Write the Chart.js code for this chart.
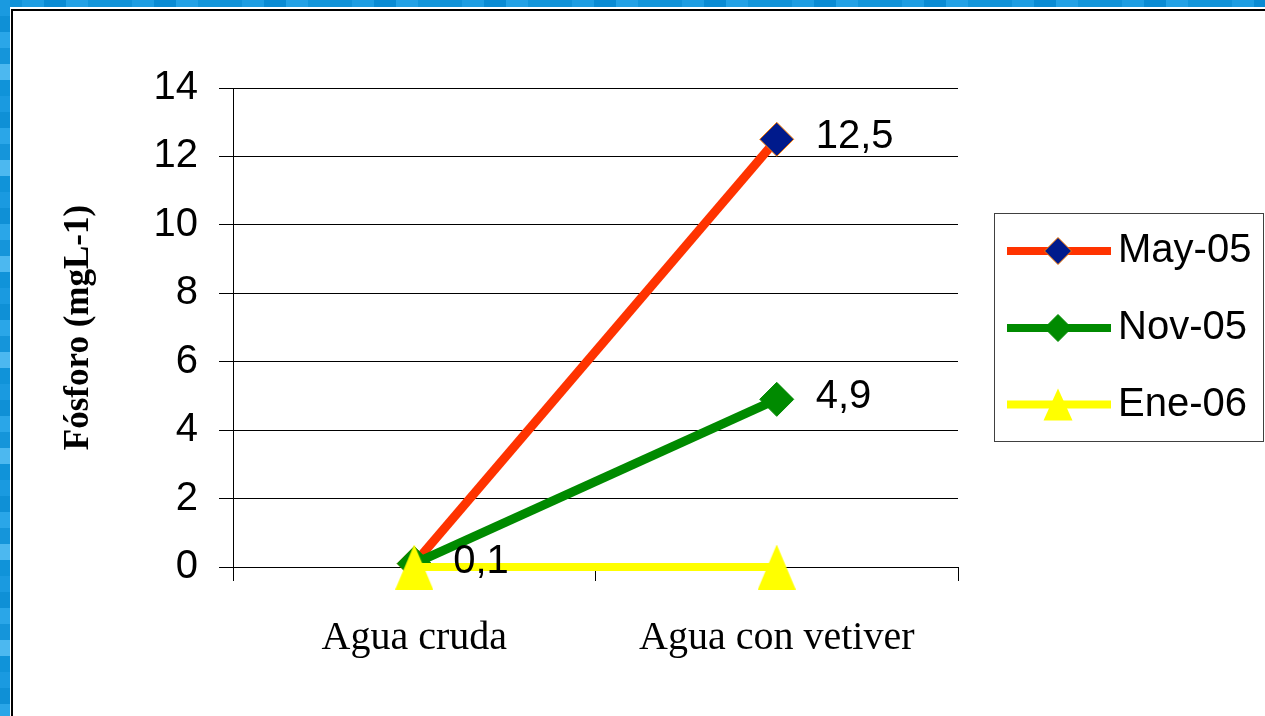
<!DOCTYPE html>
<html>
<head>
<meta charset="utf-8">
<script src="https://cdn.jsdelivr.net/npm/chart.js@4.4.1/dist/chart.umd.min.js"></script>
<style>
  html, body { margin: 0; padding: 0; width: 1265px; height: 716px; overflow: hidden; background: #ffffff; }
  #topStrip { position: absolute; left: 0; top: 0; width: 1265px; height: 7px;
    background: repeating-linear-gradient(90deg, #1092d8 0 22px, #1d9de2 22px 44px, #0a8bd3 44px 66px, #23a1e5 66px 88px, #1396db 88px 110px); }
  #leftStrip { position: absolute; left: 0; top: 0; width: 10px; height: 716px;
    background: repeating-linear-gradient(180deg, #1a9ae0 0 16px, #0f90d6 16px 32px, #2aa6e8 32px 48px, #1595da 48px 64px, #4cb8f0 64px 80px, #1093d9 80px 96px); }
  #whiteFrame { position: absolute; left: 10px; top: 7px; width: 1255px; height: 709px; background: #ffffff; }
  #blackFrame { position: absolute; left: 11px; top: 9px; width: 1254px; height: 707px; border-top: 2px solid #000; border-left: 2px solid #000; box-sizing: border-box; background: #ffffff; }
  #wrap { position: absolute; left: 0; top: 0; width: 1265px; height: 716px; }
</style>
</head>
<body>
<div id="topStrip"></div>
<div id="leftStrip"></div>
<div id="whiteFrame"></div>
<div id="blackFrame"></div>
<div id="wrap"><canvas id="c"></canvas></div>
<script>
// ---- data ----
const categories = ['Agua cruda', 'Agua con vetiver'];
const seriesNames = ['May-05', 'Nov-05', 'Ene-06'];
const may05 = [0.1, 12.5];
const nov05 = [0.1, 4.9];
const ene06 = [0, 0];
const yTicks = [0, 2, 4, 6, 8, 10, 12, 14];
const yAxisTitle = 'Fósforo (mgL-1)';
// which points carry a value label (by series)
const labelledPoints = [[0, 1], [1], []];

// ---- styles ----
const lineColors = ['#ff3300', '#008a00', '#ffff00'];
const FONT_SANS = 'Liberation Sans, Arial, sans-serif';
const FONT_SERIF = 'Liberation Serif, Times New Roman, serif';

function makeTriangle(w, h, color) {
  const c = document.createElement('canvas');
  c.width = w; c.height = h;
  const g = c.getContext('2d');
  g.fillStyle = color;
  g.beginPath();
  g.moveTo(w / 2, 0);
  g.lineTo(w, h);
  g.lineTo(0, h);
  g.closePath();
  g.fill();
  return c;
}
const triBig = makeTriangle(38, 45, '#ffff00');

const markerDefs = [
  { type: 'diamond', fill: '#001a8c', stroke: '#ff7f00' },
  { type: 'diamond', fill: '#008a00', stroke: '#008a00' },
  { type: 'triangle', fill: '#ffff00', stroke: '#ffff00' }
];

const legendPlugin = {
  id: 'boxLegend',
  afterDraw(chart) {
    const ctx = chart.ctx;
    ctx.save();
    const bx = 994, by = 213, bw = 269, bh = 228;
    ctx.strokeStyle = '#404040';
    ctx.lineWidth = 1;
    ctx.strokeRect(bx + 0.5, by + 0.5, bw, bh);
    const rows = [251, 328, 404.5];
    seriesNames.forEach((name, i) => {
      const y = rows[i];
      ctx.strokeStyle = lineColors[i];
      ctx.lineWidth = 8;
      ctx.beginPath();
      ctx.moveTo(1007, y);
      ctx.lineTo(1111, y);
      ctx.stroke();
      const m = markerDefs[i];
      const cx = 1058;
      ctx.fillStyle = m.fill;
      ctx.strokeStyle = m.stroke;
      ctx.lineWidth = 1;
      ctx.beginPath();
      if (m.type === 'diamond') {
        const r = 13.5;
        ctx.moveTo(cx, y - r); ctx.lineTo(cx + r, y); ctx.lineTo(cx, y + r); ctx.lineTo(cx - r, y);
        ctx.closePath();
        ctx.fill(); ctx.stroke();
      } else {
        ctx.moveTo(cx, y - 16); ctx.lineTo(cx + 14.5, y + 16); ctx.lineTo(cx - 14.5, y + 16);
        ctx.closePath();
        ctx.fill();
      }
      ctx.fillStyle = '#000';
      ctx.font = '40px ' + FONT_SANS;
      ctx.textAlign = 'left';
      ctx.textBaseline = 'middle';
      ctx.fillText(name, 1118, y);
    });
    ctx.restore();
  }
};

const valueLabelPlugin = {
  id: 'valueLabels',
  afterDatasetsDraw(chart) {
    const ctx = chart.ctx;
    ctx.save();
    ctx.fillStyle = '#000';
    ctx.font = '40px ' + FONT_SANS;
    ctx.textAlign = 'left';
    ctx.textBaseline = 'middle';
    chart.data.datasets.forEach((ds, di) => {
      const meta = chart.getDatasetMeta(di);
      labelledPoints[di].forEach(idx => {
        const el = meta.data[idx];
        const txt = String(ds.data[idx]).replace('.', ',');
        ctx.fillText(txt, el.x + 39, el.y - 2);
      });
    });
    ctx.restore();
  }
};

Chart.defaults.font.family = FONT_SANS;
Chart.defaults.color = '#000';

new Chart(document.getElementById('c'), {
  type: 'line',
  data: {
    labels: categories,
    datasets: [
      { label: seriesNames[0], data: may05, borderColor: lineColors[0], borderWidth: 9,
        pointStyle: 'rectRot', pointRadius: 17, pointBackgroundColor: markerDefs[0].fill,
        pointBorderColor: markerDefs[0].stroke, pointBorderWidth: 1, order: 3, tension: 0, clip: false },
      { label: seriesNames[1], data: nov05, borderColor: lineColors[1], borderWidth: 9,
        pointStyle: 'rectRot', pointRadius: 17, pointBackgroundColor: markerDefs[1].fill,
        pointBorderColor: markerDefs[1].stroke, pointBorderWidth: 1, order: 2, tension: 0, clip: false },
      { label: seriesNames[2], data: ene06, borderColor: lineColors[2], borderWidth: 8,
        pointStyle: triBig, pointRadius: 20, order: 1, tension: 0, clip: false }
    ]
  },
  options: {
    responsive: true,
    maintainAspectRatio: false,
    animation: false,
    events: [],
    layout: { padding: { left: 0, top: 88, right: 307, bottom: 0 } },
    plugins: { legend: { display: false }, tooltip: { enabled: false } },
    scales: {
      x: {
        type: 'category',
        offset: true,
        grid: { display: true, drawOnChartArea: false, drawTicks: true, tickLength: 14, color: '#000', offset: true },
        border: { display: true, color: '#000', width: 1 },
        ticks: { font: { family: FONT_SERIF, size: 40 }, color: '#000', padding: 33, maxRotation: 0 },
        afterFit(scale) { scale.height = 149; }
      },
      y: {
        min: 0, max: 14,
        afterBuildTicks(scale) { scale.ticks = yTicks.map(v => ({ value: v })); },
        grid: { color: '#000', lineWidth: 1, drawTicks: true, tickLength: 14 },
        border: { display: true, color: '#000', width: 1 },
        ticks: { font: { family: FONT_SANS, size: 40 }, color: '#000', padding: 21 },
        title: { display: true, text: yAxisTitle, color: '#000',
                 font: { family: FONT_SERIF, size: 35, weight: 'bold' }, padding: { top: 58, bottom: 0 } },
        afterFit(scale) { scale.width = 233; }
      }
    }
  },
  plugins: [valueLabelPlugin, legendPlugin]
});
</script>
</body>
</html>
